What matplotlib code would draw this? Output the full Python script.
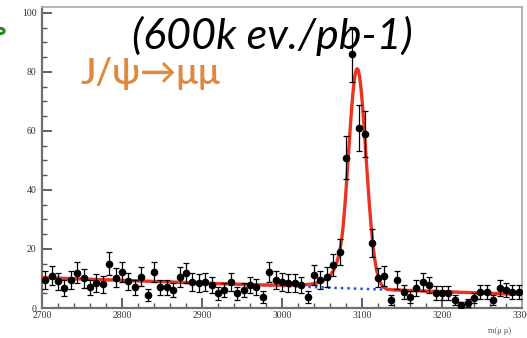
import numpy as np
import matplotlib
matplotlib.use("Agg")
import matplotlib.pyplot as plt
from matplotlib.patches import Circle

# Dimuon invariant mass spectrum, 8 MeV bins from 2700 to 3300 MeV
mass_lo, mass_hi, bin_width = 2700, 3300, 8
bin_centers = np.arange(mass_lo + bin_width / 2, mass_hi, bin_width)
counts = [
    9.5, 11.0, 9.0, 6.8, 9.5, 12.0, 10.0, 7.0, 8.5, 8.0,
    15.0, 10.2, 12.2, 9.0, 7.0, 10.6, 4.4, 12.2, 7.0, 7.0,
    6.1, 10.5, 11.9, 8.8, 8.5, 8.8, 7.8, 5.0, 6.1, 8.8,
    5.0, 6.1, 7.8, 7.1, 3.7, 12.2, 9.5, 8.8, 8.5, 8.5,
    7.8, 3.7, 11.2, 9.5, 10.5, 14.6, 19.0, 51.0, 86.0, 61.0,
    59.0, 22.0, 10.2, 10.8, 2.7, 9.5, 5.4, 3.7, 6.8, 8.8,
    7.8, 5.1, 5.1, 5.1, 2.7, 1.0, 1.7, 3.4, 5.4, 5.4,
    2.7, 6.8, 6.1, 5.4, 5.4,
]
counts = np.array(counts)
errors = np.sqrt(np.maximum(counts, 1.0))

# Fit model: linear background + Crystal Ball signal
bg_at_lo, bg_slope = 10.3, -0.0095
sig_amp, sig_mean, sig_sigma = 74.5, 3094.0, 11.0
cb_alpha, cb_n = 1.5, 3.0


def background(m):
    return bg_at_lo + bg_slope * (m - mass_lo)


def crystal_ball(m):
    t = (m - sig_mean) / sig_sigma
    a = (cb_n / cb_alpha) ** cb_n * np.exp(-cb_alpha ** 2 / 2)
    b = cb_n / cb_alpha - cb_alpha
    core = np.exp(-t ** 2 / 2)
    tail = a * np.abs(b - t) ** (-cb_n)
    return sig_amp * np.where(t > -cb_alpha, core, tail)


m_fine = np.linspace(mass_lo, mass_hi, 1200)

fig = plt.figure(figsize=(5.27, 3.38), dpi=100)
ax = fig.add_axes([42 / 527, 1 - 308 / 338, 480 / 527, 301 / 338])

ax.plot(m_fine, background(m_fine), color="#2a4fe0", lw=1.8,
        ls=(0, (1, 1.6)), zorder=2)
ax.plot(m_fine, background(m_fine) + crystal_ball(m_fine),
        color="#ec3323", lw=2.4, zorder=3)
ax.errorbar(bin_centers, counts, yerr=errors, fmt="o", color="black",
            ms=4.5, lw=0.9, capsize=2, capthick=0.9, zorder=4)

ax.set_xlim(mass_lo, mass_hi)
ax.set_ylim(0, 102)
ax.set_xticks(np.arange(2700, 3301, 100))
ax.set_xticks(np.arange(2700, 3301, 20), minor=True)
ax.set_yticks(np.arange(0, 101, 20))
ax.set_yticks(np.arange(0, 101, 5), minor=True)

tick_font = dict(family="Liberation Serif", size=7, color="#333333")
ax.set_xticklabels([str(v) for v in range(2700, 3301, 100)], **tick_font)
ax.set_yticklabels([str(v) for v in range(0, 101, 20)], **tick_font)
ax.tick_params(which="major", direction="in", length=7, width=1.3,
               color="#555555", pad=2)
ax.tick_params(axis="y", which="major", pad=4)
ax.tick_params(which="minor", direction="in", length=3.5, width=1.0,
               color="#555555")
ax.tick_params(axis="x", which="both", top=False)
ax.tick_params(axis="y", which="both", right=False)

for side in ("left", "bottom"):
    ax.spines[side].set_color("#707070")
    ax.spines[side].set_linewidth(1.6)
for side in ("top", "right"):
    ax.spines[side].set_color("#b0b0b0")
    ax.spines[side].set_linewidth(1.3)

fig.text(500 / 527, 1 - 331 / 338, "m(μ μ)", ha="center", va="center",
         family="Liberation Serif", size=6, color="#555555")

fig.text(272 / 527, 1 - 36 / 338, "(600k ev./pb-1)", ha="center",
         va="center", family="Lato", style="italic", size=31,
         color="black")
fig.text(81 / 527, 1 - 74 / 338, "J/ψ→μμ", ha="left", va="center",
         family=["Lato", "DejaVu Sans"], size=26, weight="semibold",
         color="#e0883c")

fig.add_artist(Circle((0.0, 1 - 31 / 338), 0.008, transform=fig.transFigure,
                      facecolor="none", edgecolor="#2a8a1e", lw=2.2))

fig.savefig("out.png", dpi=100)
